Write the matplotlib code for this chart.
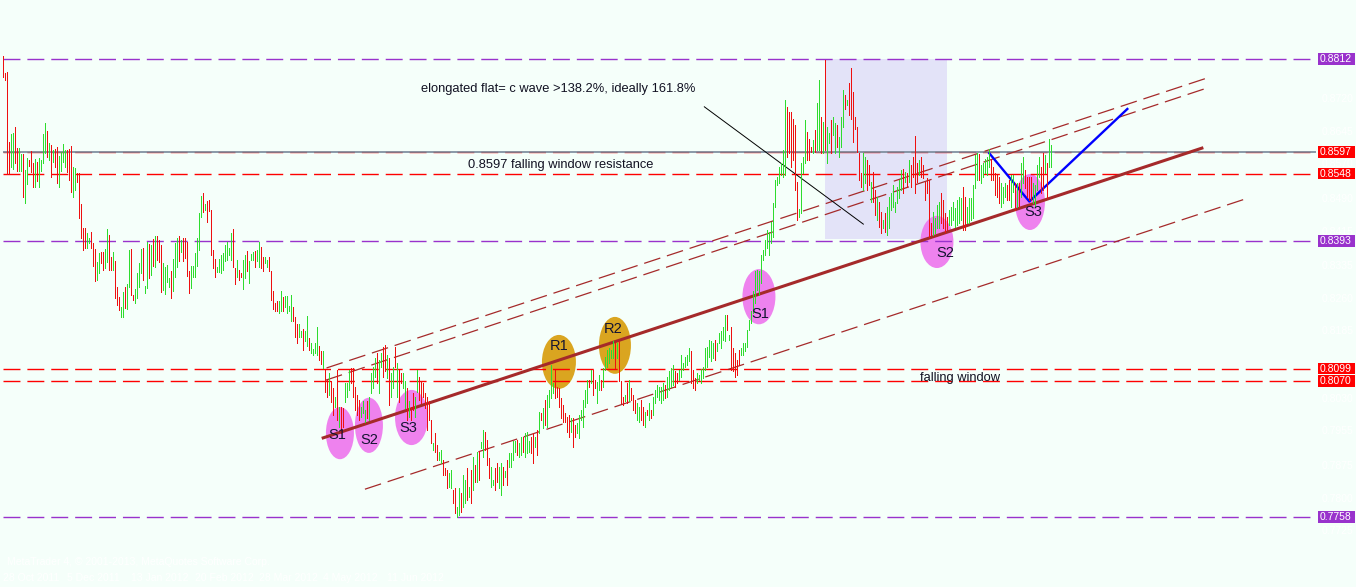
import matplotlib
matplotlib.use("Agg")
import matplotlib.pyplot as plt
from matplotlib.patches import Rectangle, Ellipse
from matplotlib.transforms import blended_transform_factory
import numpy as np

plt.rcParams['lines.scale_dashes'] = False

# ---------------- data (EURGBP daily, prices in pips *1e-4) ----------------
high_pips = [
    8819, 8780, 8782, 8621, 8639, 8642, 8655, 8607, 8607, 8593,
    8593, 8557, 8584, 8580, 8601, 8572, 8583, 8575, 8584, 8580,
    8639, 8665, 8647, 8619, 8613, 8603, 8606, 8610, 8589, 8598,
    8616, 8603, 8603, 8606, 8612, 8563, 8561, 8550, 8550, 8478,
    8423, 8423, 8412, 8400, 8414, 8388, 8374, 8345, 8366, 8368,
    8369, 8374, 8420, 8406, 8356, 8369, 8346, 8287, 8265, 8242,
    8276, 8287, 8294, 8372, 8374, 8270, 8282, 8319, 8342, 8374,
    8376, 8290, 8391, 8386, 8385, 8397, 8405, 8405, 8396, 8383,
    8342, 8333, 8337, 8307, 8323, 8351, 8388, 8400, 8405, 8396,
    8400, 8399, 8391, 8323, 8336, 8336, 8365, 8400, 8458, 8497,
    8503, 8478, 8486, 8488, 8465, 8373, 8351, 8334, 8351, 8361,
    8365, 8384, 8392, 8376, 8412, 8420, 8330, 8349, 8326, 8319,
    8349, 8361, 8371, 8346, 8363, 8369, 8371, 8373, 8392, 8380,
    8357, 8356, 8349, 8356, 8325, 8277, 8250, 8256, 8254, 8277,
    8265, 8267, 8267, 8244, 8269, 8241, 8219, 8202, 8202, 8185,
    8190, 8185, 8221, 8169, 8159, 8144, 8159, 8196, 8152, 8141,
    8139, 8096, 8073, 8089, 8070, 8054, 8035, 8096, 8012, 8012,
    8008, 8066, 8066, 8096, 8100, 8100, 8058, 8039, 8027, 8012,
    8024, 8004, 8024, 8035, 8089, 8104, 8123, 8135, 8119, 8135,
    8150, 8154, 8131, 8123, 8089, 8104, 8150, 8112, 8096, 8089,
    8089, 8070, 8054, 8024, 8012, 8043, 8035, 8096, 8081, 8070,
    8066, 8043, 8035, 8024, 7981, 7928, 7951, 7924, 7908, 7912,
    7889, 7870, 7866, 7859, 7866, 7820, 7824, 7782, 7824, 7813,
    7855, 7843, 7870, 7828, 7866, 7897, 7878, 7908, 7911, 7931,
    7958, 7954, 7935, 7893, 7874, 7843, 7870, 7882, 7874, 7882,
    7874, 7863, 7889, 7905, 7906, 7932, 7932, 7935, 7928, 7943,
    7943, 7951, 7954, 7932, 7943, 7951, 7943, 7958, 8000, 7997,
    8008, 8027, 8039, 8050, 8108, 8066, 8096, 8058, 8054, 8031,
    8016, 7997, 7989, 7993, 7985, 7985, 7970, 7974, 7993, 8004,
    8027, 8050, 8073, 8073, 8096, 8096, 8073, 8069, 8085, 8073,
    8100, 8127, 8142, 8146, 8142, 8162, 8159, 8158, 8162, 8070,
    8035, 8039, 8066, 8073, 8054, 8039, 8027, 8020, 8012, 8027,
    8012, 8000, 8004, 8020, 8004, 8035, 8050, 8062, 8058, 8058,
    8066, 8062, 8081, 8093, 8100, 8108, 8093, 8089, 8096, 8131,
    8112, 8127, 8131, 8146, 8139, 8096, 8077, 8089, 8085, 8098,
    8104, 8146, 8150, 8165, 8162, 8158, 8165, 8158, 8181, 8185,
    8196, 8223, 8223, 8177, 8196, 8146, 8135, 8119, 8142, 8146,
    8158, 8158, 8188, 8211, 8231, 8277, 8323, 8326, 8323, 8361,
    8372, 8395, 8419, 8415, 8438, 8480, 8534, 8541, 8564, 8572,
    8603, 8718, 8702, 8691, 8691, 8675, 8660, 8530, 8466, 8572,
    8587, 8672, 8645, 8629, 8610, 8626, 8649, 8710, 8764, 8679,
    8668, 8810, 8656, 8641, 8672, 8679, 8664, 8660, 8633, 8679,
    8741, 8729, 8718, 8756, 8791, 8737, 8679, 8656, 8595, 8549,
    8595, 8587, 8580, 8568, 8530, 8553, 8511, 8495, 8484, 8461,
    8441, 8457, 8472, 8495, 8503, 8522, 8484, 8518, 8534, 8557,
    8560, 8553, 8549, 8580, 8568, 8587, 8635, 8572, 8580, 8587,
    8568, 8530, 8537, 8534, 8434, 8461, 8445, 8476, 8484, 8503,
    8488, 8457, 8449, 8465, 8472, 8484, 8468, 8488, 8495, 8491,
    8518, 8495, 8472, 8491, 8491, 8522, 8591, 8595, 8593, 8568,
    8572, 8583, 8587, 8606, 8583, 8564, 8549, 8545, 8541, 8526,
    8518, 8526, 8522, 8534, 8545, 8545, 8526, 8526, 8526, 8572,
    8587, 8557, 8541, 8541, 8541, 8526, 8522, 8568, 8587, 8564,
    8595, 8591, 8572, 8629, 8614,
]
low_pips = [
    8771, 8764, 8547, 8547, 8564, 8560, 8572, 8555, 8555, 8555,
    8495, 8481, 8524, 8566, 8553, 8517, 8518, 8532, 8517, 8555,
    8572, 8595, 8586, 8580, 8541, 8575, 8564, 8526, 8518, 8555,
    8575, 8564, 8553, 8534, 8506, 8494, 8511, 8530, 8445, 8399,
    8372, 8376, 8377, 8389, 8376, 8336, 8300, 8303, 8319, 8343,
    8326, 8330, 8345, 8326, 8326, 8326, 8261, 8247, 8234, 8219,
    8219, 8238, 8236, 8287, 8268, 8257, 8251, 8261, 8288, 8320,
    8303, 8274, 8284, 8307, 8314, 8336, 8334, 8350, 8345, 8276,
    8280, 8271, 8299, 8288, 8261, 8279, 8311, 8334, 8348, 8369,
    8346, 8353, 8313, 8274, 8285, 8311, 8311, 8336, 8372, 8449,
    8460, 8465, 8437, 8463, 8362, 8331, 8311, 8322, 8322, 8319,
    8327, 8346, 8350, 8361, 8349, 8334, 8294, 8311, 8303, 8311,
    8282, 8307, 8325, 8296, 8349, 8349, 8333, 8346, 8333, 8330,
    8323, 8343, 8334, 8323, 8257, 8236, 8233, 8231, 8227, 8231,
    8231, 8241, 8228, 8233, 8208, 8208, 8173, 8159, 8173, 8172,
    8142, 8164, 8152, 8142, 8135, 8130, 8136, 8131, 8119, 8110,
    8100, 8046, 8035, 8039, 8023, 7993, 8012, 7981, 7966, 7951,
    7966, 8023, 8035, 8050, 8066, 8035, 8004, 7993, 7981, 7989,
    7997, 7977, 7985, 7981, 8043, 8054, 8081, 8066, 8043, 8104,
    8081, 8093, 8077, 8016, 8035, 8054, 8104, 8035, 8023, 8066,
    8054, 8008, 7981, 7987, 7981, 8004, 7989, 8046, 8027, 8020,
    8035, 8008, 7958, 7981, 7928, 7912, 7908, 7889, 7889, 7882,
    7855, 7855, 7824, 7828, 7824, 7790, 7767, 7759, 7763, 7770,
    7782, 7790, 7797, 7805, 7790, 7820, 7839, 7839, 7843, 7916,
    7897, 7912, 7878, 7847, 7828, 7832, 7820, 7839, 7824, 7809,
    7832, 7851, 7832, 7874, 7874, 7889, 7908, 7901, 7897, 7901,
    7908, 7897, 7905, 7908, 7905, 7882, 7920, 7901, 7951, 7981,
    7962, 7970, 7966, 8012, 8031, 8043, 8031, 8035, 8012, 7985,
    7977, 7977, 7954, 7943, 7954, 7920, 7943, 7951, 7939, 7981,
    7966, 8012, 8020, 8058, 8066, 8039, 8054, 8020, 8050, 8050,
    8058, 8096, 8104, 8112, 8123, 8123, 8100, 8123, 8070, 8020,
    8016, 8024, 8020, 8024, 8027, 8004, 7997, 7981, 7977, 7981,
    7970, 7966, 7993, 7981, 7985, 7993, 8020, 8035, 8027, 8020,
    8027, 8031, 8035, 8050, 8058, 8062, 8058, 8066, 8073, 8081,
    8096, 8104, 8108, 8116, 8066, 8054, 8050, 8066, 8073, 8066,
    8077, 8096, 8104, 8127, 8116, 8123, 8119, 8139, 8158, 8146,
    8165, 8162, 8188, 8165, 8096, 8093, 8081, 8085, 8108, 8131,
    8131, 8139, 8150, 8188, 8204, 8227, 8250, 8280, 8269, 8296,
    8349, 8361, 8376, 8361, 8388, 8403, 8472, 8522, 8526, 8545,
    8541, 8545, 8587, 8595, 8564, 8580, 8511, 8441, 8449, 8457,
    8549, 8572, 8580, 8580, 8599, 8595, 8599, 8603, 8603, 8595,
    8595, 8603, 8572, 8618, 8595, 8637, 8595, 8610, 8587, 8610,
    8656, 8698, 8706, 8683, 8675, 8622, 8652, 8599, 8534, 8518,
    8511, 8526, 8511, 8522, 8484, 8484, 8453, 8441, 8426, 8412,
    8422, 8415, 8407, 8422, 8465, 8472, 8461, 8480, 8491, 8511,
    8503, 8530, 8518, 8530, 8518, 8541, 8503, 8530, 8545, 8541,
    8537, 8488, 8503, 8403, 8407, 8407, 8411, 8422, 8422, 8434,
    8422, 8415, 8418, 8430, 8430, 8441, 8426, 8430, 8434, 8441,
    8418, 8418, 8434, 8434, 8441, 8445, 8514, 8534, 8534, 8526,
    8541, 8549, 8545, 8564, 8534, 8534, 8499, 8495, 8480, 8472,
    8480, 8495, 8488, 8488, 8472, 8507, 8465, 8472, 8472, 8495,
    8526, 8514, 8495, 8488, 8488, 8480, 8472, 8511, 8541, 8503,
    8511, 8549, 8491, 8564, 8564,
]
# u = up bar (green), d = down bar (red)
direction = (
    "dddduudduu" "duuddduduu" "uudududduu" "uuddduuddd" "dduuddduud"
    "duuddudddu" "uduudduuuu" "duudududdd" "uuuuduuudu" "dddduuuuuu"
    "duddddduuu" "uuuuuddudd" "uuduuuduud" "duuddddduu" "duuuuddduu"
    "duuduuuudd" "udduddudud" "duuudddddu" "uuduuuuduu" "dduduududd"
    "uududduudd" "dddddudduu" "ddduudduud" "uududududu" "uddduudduu"
    "duduuuuduu" "duuuddudud" "uduuuudddd" "ddddudduuu" "uuududduud"
    "uuuuuududd" "dududdduud" "dududuuuuu" "uduuuudduu" "uuuuddduuu"
    "uuuuuuduuu" "uududddddu" "uuuuuuuuuu" "uuuuuuuuuu" "uudddddduu"
    "uuddduduud" "uduuduuduu" "ududdddddd" "uudduddudd" "uduuuuuuuu"
    "dududdddud" "ddddduuuud" "ddduuuuuuu" "dduuuuuudu" "uuuudddddu"
    "uudduududu" "udddduuuud" "duduu"
)

# horizontal levels (right-hand price tags)
level_prices = [0.8812, 0.8597, 0.8548, 0.8393, 0.8099, 0.8070, 0.7758]
level_kinds = ["major", "window", "window", "major", "window", "window", "major"]
bid_price = 0.8599
axis_ticks = [0.8720, 0.8645, 0.8570, 0.8490, 0.8415, 0.8335, 0.8260,
              0.8185, 0.8105, 0.8030, 0.7955, 0.7875, 0.7800, 0.7725]
date_labels = ["28 Oct 2011", "5 Dec 2011", "13 Jan 2012", "20 Feb 2012",
               "28 Mar 2012", "4 May 2012", "11 Jun 2012"]
date_bars = [0, 32, 64, 96, 128, 160, 192]

# drawn objects (bar index, price)
trend_main = ([159.2, 600.0], [0.7939, 0.8608])
chan_up_a = ([161.6, 601.7], [0.8101, 0.8768])
chan_up_b = ([161.3, 601.7], [0.8073, 0.8745])
chan_low = ([180.8, 621.7], [0.7822, 0.8491])
blue_v = ([493.0, 513.0, 562.0], [0.8595, 0.8484, 0.8697])
pointer = ([350.5, 430.0], [0.8702, 0.8432])
flat_box = (410.8, 472.0, 0.8398, 0.8812)

ell_names = ["S1", "S2", "S3", "R1", "R2", "S1", "S2", "S3"]
ell_x = [168.3, 182.8, 204.1, 277.8, 305.8, 377.8, 466.8, 513.3]
ell_y = [0.7951, 0.7969, 0.7987, 0.8115, 0.8153, 0.8265, 0.8391, 0.8483]
ell_w = [14.0, 14.0, 16.5, 17.0, 16.0, 16.5, 16.5, 15.0]
ell_h = [0.0120, 0.0127, 0.0127, 0.0124, 0.0131, 0.0127, 0.0120, 0.0129]
lab_x = [167.1, 183.1, 202.5, 277.9, 305.0, 378.7, 470.8, 514.9]
lab_y = [0.7947, 0.7935, 0.7962, 0.8151, 0.8190, 0.8225, 0.8365, 0.8461]

notes = ["elongated flat= c wave >138.2%, ideally 161.8%",
         "0.8597 falling window resistance",
         "falling window"]
note_x = [208.7, 232.5, 458.3]
note_y = [0.8743, 0.8569, 0.8079]

# ---------------- figure ----------------
W, H, DPI = 1356, 587, 100
BG = "#F5FFFA"
fig = plt.figure(figsize=(W / DPI, H / DPI), dpi=DPI, facecolor=BG)
ax = fig.add_axes([3 / W, 1 - 570 / H, (1316 - 3) / W, 570 / H])
ax.set_facecolor(BG)
for s in ax.spines.values():
    s.set_visible(False)
ax.set_xticks([])
ax.set_yticks([])
px_per_unit = 4345.4
ax.set_ylim(0.8812 - 511 / px_per_unit, 0.8812 + 59 / px_per_unit)
ax.set_xlim(-0.165, 656.33)

FONT = ["Liberation Sans", "DejaVu Sans"]
DASH = (12.2, 5.0)

# shaded box
x0, x1, p0, p1 = flat_box
ax.add_patch(Rectangle((x0, p0), x1 - x0, p1 - p0, facecolor="#E3E3F8",
                       edgecolor="none", zorder=1))

# ellipses
for n, x, y, w, h in zip(ell_names, ell_x, ell_y, ell_w, ell_h):
    col = "#DAA520" if n.startswith("R") else "#EE82EE"
    ax.add_patch(Ellipse((x, y), w, h, facecolor=col, edgecolor="none", zorder=2))

# horizontal levels
for p, k in zip(level_prices, level_kinds):
    col = "#9932CC" if k == "major" else "#FF0000"
    ax.axhline(p, color=col, lw=1.0, dashes=DASH, zorder=3)
ax.axhline(bid_price, color="#778899", lw=1.2, zorder=3)

# channel lines
for xs, ys in (chan_up_a, chan_up_b, chan_low):
    ax.plot(xs, ys, color="#A52A2A", lw=0.9, dashes=DASH, zorder=3)
ax.plot(*trend_main, color="#A52A2A", lw=2.2, zorder=4, solid_capstyle="butt")
ax.plot(*blue_v, color="#0000FF", lw=1.7, zorder=4)
ax.plot(*pointer, color="black", lw=0.7, zorder=4)

# price bars (1 px wide)
hi = np.array(high_pips) / 10000.0
lo = np.array(low_pips) / 10000.0
idx = np.arange(len(hi))
up = np.array([c == "u" for c in direction])
ax.vlines(idx[up], lo[up], hi[up], colors="#2EDC2E", lw=0.6, zorder=5,
          antialiased=False)
ax.vlines(idx[~up], lo[~up], hi[~up], colors="#EE1010", lw=0.6, zorder=5,
          antialiased=False)

# labels on ellipses
for n, x, y in zip(ell_names, lab_x, lab_y):
    ax.text(x, y, n, family=FONT, fontsize=10.5, color="#141432",
            ha="center", va="center", zorder=6)

# notes
for t, x, y in zip(notes, note_x, note_y):
    ax.text(x, y, t, family=FONT, fontsize=9.3, color="#111122",
            ha="left", va="center", zorder=6)

# right price scale
trans = blended_transform_factory(fig.transFigure, ax.transData)
for p in axis_ticks:
    ax.text(1322 / W, p, f"{p:.4f}", transform=trans, family=FONT, fontsize=7.5,
            color="white", ha="left", va="center", clip_on=False)
for p, k in zip(level_prices, level_kinds):
    col = "#9932CC" if k == "major" else "#FF0000"
    ax.add_patch(Rectangle((1318 / W, p - 5.5 / px_per_unit), 36.5 / W,
                           11.5 / px_per_unit, transform=trans, facecolor=col,
                           edgecolor="none", clip_on=False, zorder=7))
    ax.text(1336 / W, p, f"{p:.4f}", transform=trans, family=FONT, fontsize=7.5,
            color="white", ha="center", va="center", clip_on=False, zorder=8)

# bottom (nearly invisible) time scale and copyright
tb = blended_transform_factory(ax.transData, fig.transFigure)
for lbl, b in zip(date_labels, date_bars):
    ax.text(b, 9 / H, lbl, transform=tb, family=FONT, fontsize=7.5,
            color="white", ha="left", va="center", clip_on=False)
fig.text(7 / W, 25 / H, "MetaTrader 4, \u00a9 2001-2013, MetaQuotes Software Corp.",
         family=FONT, fontsize=7.5, color="white", ha="left", va="center")

fig.savefig("out.png", dpi=DPI, facecolor=BG)
